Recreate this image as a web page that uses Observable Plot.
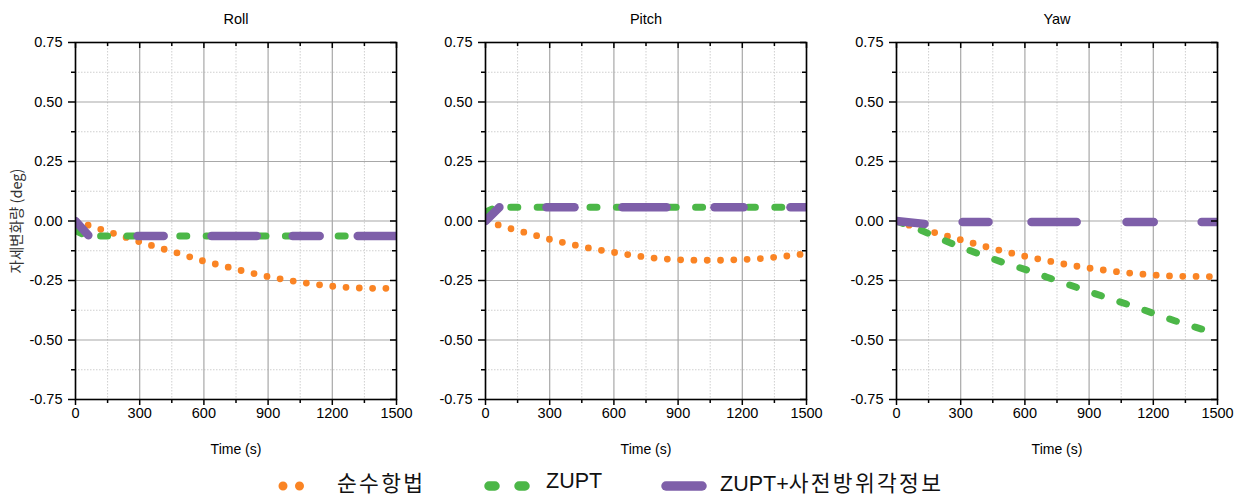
<!DOCTYPE html>
<html><head><meta charset="utf-8">
<script src="https://cdn.jsdelivr.net/npm/d3@7"></script>
<script src="https://cdn.jsdelivr.net/npm/@observablehq/plot@0.6"></script>
<style>
body{margin:0;background:#fff;}
#wrap{position:relative;width:1240px;height:497px;font-family:"Liberation Sans",Arial,"Noto Sans CJK KR",sans-serif;}
.panel{position:absolute;top:0;}
#legend{position:absolute;left:0;top:474px;width:1240px;height:23px;}
.lt{position:absolute;top:-3px;height:21px;line-height:21px;font-size:21.5px;color:#111;white-space:nowrap;}
.ko{letter-spacing:2.3px;font-family:"Noto Sans CJK KR",sans-serif;}
</style></head>
<body><div id="wrap"><div id="legend"></div></div>
<script>
// ---- data ----
const panelTitles = ["Roll", "Pitch", "Yaw"];
const seriesNames = ["순수항법", "ZUPT", "ZUPT+사전방위각정보"];
const xTicks = [0, 300, 600, 900, 1200, 1500];
const xMinor = [150, 450, 750, 1050, 1350];
const yTicks = [-0.75, -0.5, -0.25, 0, 0.25, 0.5, 0.75];
const yMinor = [-0.625, -0.375, -0.125, 0.125, 0.375, 0.625];

const timeGrid = [0, 100, 200, 300, 400, 500, 600, 700, 800, 900, 1000, 1100, 1200, 1300, 1400, 1500];
// 순수항법 (pure navigation)
const rollPure  = [0, -0.030, -0.058, -0.088, -0.115, -0.141, -0.169, -0.191, -0.214, -0.234, -0.250, -0.264, -0.274, -0.281, -0.283, -0.283];
const pitchPure = [0, -0.028, -0.052, -0.077, -0.098, -0.117, -0.132, -0.146, -0.157, -0.163, -0.165, -0.165, -0.162, -0.157, -0.148, -0.137];
const yawPure   = [0, -0.030, -0.054, -0.079, -0.104, -0.127, -0.148, -0.166, -0.184, -0.198, -0.210, -0.220, -0.227, -0.232, -0.233, -0.234];
// ZUPT
const rollZuptT  = [0, 50, 1500];
const rollZupt   = [-0.040, -0.063, -0.063];
const pitchZuptT = [0, 50, 1500];
const pitchZupt  = [0.037, 0.058, 0.058];
const yawZupt    = [0, -0.033, -0.073, -0.110, -0.143, -0.175, -0.203, -0.235, -0.266, -0.297, -0.327, -0.356, -0.388, -0.419, -0.447, -0.474];
// ZUPT+사전방위각정보 : segments [t, value]
const rollHead  = [[[0, 0], [60, -0.060]], [[290, -0.063], [412, -0.063]], [[636, -0.063], [847, -0.063]], [[1015, -0.063], [1141, -0.063]], [[1319, -0.063], [1500, -0.063]]];
const pitchHead = [[[0, 0], [65, 0.058]], [[285, 0.058], [416, 0.058]], [[640, 0.058], [846, 0.058]], [[1070, 0.058], [1206, 0.058]], [[1425, 0.058], [1500, 0.058]]];
const yawHead   = [[[0, 0], [131, -0.012]], [[309, -0.004], [430, -0.004]], [[631, -0.004], [842, -0.004]], [[1075, -0.004], [1202, -0.004]], [[1426, -0.004], [1500, -0.004]]];

const colors = ["#fa8424", "#4cb748", "#7e5fa9"];

function toRows(ts, vs) { return ts.map((t, i) => ({t, v: vs[i]})); }
function segRows(segs) { return segs.flatMap((s, k) => s.map(([t, v]) => ({t, v, seg: k}))); }

const panels = [
  {title: panelTitles[0], pure: toRows(timeGrid, rollPure), zupt: toRows(rollZuptT, rollZupt), head: segRows(rollHead), ylabel: true},
  {title: panelTitles[1], pure: toRows(timeGrid, pitchPure), zupt: toRows(pitchZuptT, pitchZupt), head: segRows(pitchHead), ylabel: false},
  {title: panelTitles[2], pure: toRows(timeGrid, yawPure), zupt: toRows(timeGrid, yawZupt), head: segRows(yawHead), ylabel: false}
];
const lefts = [0, 410, 821];
const W = 413, H = 466, ML = 75, MR = 17, MT = 42, MB = 67;
const PW = W - ML - MR, PH = H - MT - MB;

const fmtY = d => d.toFixed(2);
const none = () => "";

panels.forEach((p, i) => {
  const marks = [
    Plot.gridX(xMinor, {stroke: "#cfcfcf", strokeOpacity: 1, strokeDasharray: "1.5,1.5"}),
    Plot.gridY(yMinor, {stroke: "#cfcfcf", strokeOpacity: 1, strokeDasharray: "1.5,1.5"}),
    Plot.gridX(xTicks, {stroke: "#a8a8a8", strokeOpacity: 1, strokeWidth: 1.2}),
    Plot.gridY(yTicks, {stroke: "#a8a8a8", strokeOpacity: 1, strokeWidth: 1.2}),
    Plot.line(p.pure, {x: "t", y: "v", stroke: colors[0], strokeWidth: 6.8, strokeDasharray: "0,13.3", strokeLinecap: "round", clip: true}),
    Plot.line(p.zupt, {x: "t", y: "v", stroke: colors[1], strokeWidth: 7, strokeDasharray: "7,19.4", strokeLinecap: "round", clip: true}),
    Plot.line(p.head, {x: "t", y: "v", z: "seg", stroke: colors[2], strokeWidth: 8.5, strokeLinecap: "round", clip: true}),
    Plot.frame({stroke: "#000", strokeWidth: 1.6}),
    Plot.axisX(xTicks, {tickSize: 6, tickPadding: 2, tickFormat: d => String(d), label: null, fontSize: 14.5, strokeWidth: 1.5}),
    Plot.axisX(xMinor, {tickSize: 4, tickFormat: none, label: null, strokeWidth: 1.5}),
    Plot.tickX(xTicks, {x: d => d, insetBottom: PH - 6, stroke: "#000", strokeWidth: 1.5}),
    Plot.tickX(xMinor, {x: d => d, insetBottom: PH - 4, stroke: "#000", strokeWidth: 1.5}),
    Plot.axisY(yTicks, {tickSize: 7, tickPadding: 6, tickFormat: fmtY, label: null, fontSize: 14.5, strokeWidth: 1.5}),
    Plot.axisY(yMinor, {tickSize: 4, tickFormat: none, label: null, strokeWidth: 1.5}),
    Plot.tickY(yTicks, {y: d => d, insetLeft: PW - 6, stroke: "#000", strokeWidth: 1.5}),
    Plot.tickY(yMinor, {y: d => d, insetLeft: PW - 4, stroke: "#000", strokeWidth: 1.5}),
    Plot.text([p.title], {frameAnchor: "top", lineAnchor: "middle", dy: -23, fontSize: 14.5, fill: "#000"}),
    Plot.text(["Time (s)"], {frameAnchor: "bottom", lineAnchor: "middle", dy: 50, fontSize: 14, fill: "#000"})
  ];
  if (p.ylabel) marks.push(Plot.text(["자세변화량 (deg)"], {frameAnchor: "left", textAnchor: "middle", lineAnchor: "middle", dx: -58, rotate: -90, fontSize: 14.5, fill: "#333", fontFamily: "'Noto Sans CJK KR', sans-serif"}));
  const svg = Plot.plot({
    width: W, height: H,
    marginLeft: ML, marginRight: MR, marginTop: MT, marginBottom: MB,
    x: {domain: [0, 1500]},
    y: {domain: [-0.75, 0.75]},
    style: {fontFamily: "'Liberation Sans', Arial, 'Noto Sans CJK KR', sans-serif", fontSize: "14px", color: "#000", background: "transparent", overflow: "visible"},
    marks
  });
  const d = document.createElement("div");
  d.className = "panel";
  d.style.left = lefts[i] + "px";
  d.appendChild(svg);
  document.getElementById("wrap").appendChild(d);
});

// legend
const lg = document.getElementById("legend");
const ns = "http://www.w3.org/2000/svg";
function sym(left, w, dash, color, sw) {
  const s = document.createElementNS(ns, "svg");
  s.setAttribute("width", w + 12); s.setAttribute("height", 23);
  s.style.position = "absolute"; s.style.left = (left - 6) + "px"; s.style.top = "0px";
  const l = document.createElementNS(ns, "line");
  l.setAttribute("x1", 6); l.setAttribute("x2", 6 + w); l.setAttribute("y1", 12); l.setAttribute("y2", 12);
  l.setAttribute("stroke", color); l.setAttribute("stroke-width", sw);
  l.setAttribute("stroke-linecap", "round");
  if (dash) l.setAttribute("stroke-dasharray", dash);
  s.appendChild(l); lg.appendChild(s);
}
function txt(left, parts) {
  const e = document.createElement("div");
  e.className = "lt"; e.style.left = left + "px";
  parts.forEach(([t, ko]) => {
    const s = document.createElement("span");
    if (ko) s.className = "ko";
    s.textContent = t; e.appendChild(s);
  });
  lg.appendChild(e);
}
sym(283, 33, "0,16.5", colors[0], 9);
txt(337, [[seriesNames[0], true]]);
sym(489, 36, "6,24", colors[1], 9.5);
txt(546, [[seriesNames[1], false]]);
sym(666, 36, null, colors[2], 9.5);
txt(720, [[seriesNames[2].slice(0, 5), false], [seriesNames[2].slice(5), true]]);
</script></body></html>
